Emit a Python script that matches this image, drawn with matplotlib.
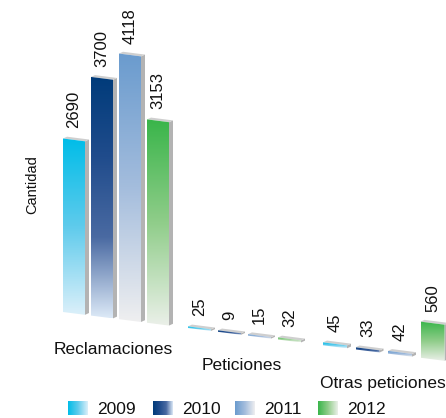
import numpy as np
import matplotlib
matplotlib.use("Agg")
import matplotlib.pyplot as plt
from matplotlib.colors import LinearSegmentedColormap
from matplotlib.patches import Polygon

plt.rcParams["font.family"] = ["Liberation Sans", "DejaVu Sans"]

# ── Datos ────────────────────────────────────────────────────────────────
categories = ["Reclamaciones", "Peticiones", "Otras peticiones"]
years = ["2009", "2010", "2011", "2012"]
reclamaciones = [2690, 3700, 4118, 3153]
peticiones = [25, 9, 15, 32]
otras_peticiones = [45, 33, 42, 560]
values = [reclamaciones, peticiones, otras_peticiones]

# colores degradados (arriba -> abajo)
grad_colors = [
    ["#00bde8", "#5fcbec", "#dcf0fa"],
    ["#003b7a", "#204c8c", "#4a6aa2", "#dce9f7"],
    ["#6a9bce", "#a4bddd", "#efeff0"],
    ["#39b54a", "#90cd8a", "#ebf0e9"],
]

# ── Layout (coordenadas en píxeles) ─────────────────────────────────────
W, H = 446, 418
group_start = [63, 188, 323]
bar_step = [28, 30, 32.5]
bar_w = [22, 23, 24]
label_shift = [-5, -5, -3]
px_per_unit = 0.0645
depth_dx, depth_dy = 4, 1.8


def baseline(x):
    return 312 + 0.128 * (x - 63)


fig = plt.figure(figsize=(W / 100, H / 100), dpi=100)
ax = fig.add_axes([0, 0, 1, 1])
ax.set_xlim(0, W)
ax.set_ylim(H, 0)
ax.axis("off")

cmaps = [LinearSegmentedColormap.from_list(f"c{i}", c) for i, c in enumerate(grad_colors)]
vgrad = np.linspace(0, 1, 256).reshape(-1, 1)
hgrad = np.linspace(0, 1, 256).reshape(1, -1)

for g, vals in enumerate(values):
    for i, v in enumerate(vals):
        L = group_start[g] + i * bar_step[g]
        R = L + bar_w[g]
        h = max(v * px_per_unit, 1.5)
        bL, bR = baseline(L), baseline(R)
        tL, tR = bL - h, bR - h

        # cara lateral
        side = Polygon([(R, bR), (R, tR), (R + depth_dx, tR - depth_dy),
                        (R + depth_dx, bR - depth_dy)],
                       closed=True, fc="#b3b3b3", ec="none", zorder=2)
        ax.add_patch(side)
        # cara superior
        top = Polygon([(L, tL), (R, tR), (R + depth_dx, tR - depth_dy),
                       (L + depth_dx, tL - depth_dy)],
                      closed=True, fc="#cfcfcf", ec="none", zorder=2)
        ax.add_patch(top)
        # cara frontal con degradado
        front = Polygon([(L, bL), (R, bR), (R, tR), (L, tL)],
                        closed=True, fc="none", ec="none", zorder=3)
        ax.add_patch(front)
        im = ax.imshow(vgrad, cmap=cmaps[i], aspect="auto", origin="upper",
                       extent=(L, R, bR, tL), zorder=3)
        im.set_clip_path(front)

        # etiqueta de valor
        ax.text((L + R) / 2, min(tL, tR) - 10, str(v), rotation=90,
                ha="center", va="bottom", fontsize=12, color="#111111",
                zorder=4)

    # etiqueta de categoría
    gL = group_start[g]
    gR = group_start[g] + 3 * bar_step[g] + bar_w[g] + depth_dx
    cx = (gL + gR) / 2 + label_shift[g]
    ax.text(cx, baseline(cx) + 31, categories[g], ha="center", va="center",
            fontsize=12.5, color="#111111")

ax.text(32, 185, "Cantidad", rotation=90, ha="center", va="center",
        fontsize=10.5, color="#111111")

# ── Leyenda ──────────────────────────────────────────────────────────────
leg_x = [68, 153, 235, 318]
for k, yr in enumerate(years):
    x0 = leg_x[k]
    ax.imshow(hgrad, cmap=cmaps[k], aspect="auto", origin="upper",
              extent=(x0, x0 + 20, 415, 401), zorder=3)
    ax.text(x0 + 29, 409, yr, ha="left", va="center", fontsize=12.5,
            color="#111111")

ax.set_xlim(0, W)
ax.set_ylim(H, 0)
fig.savefig("out.png", dpi=100)
